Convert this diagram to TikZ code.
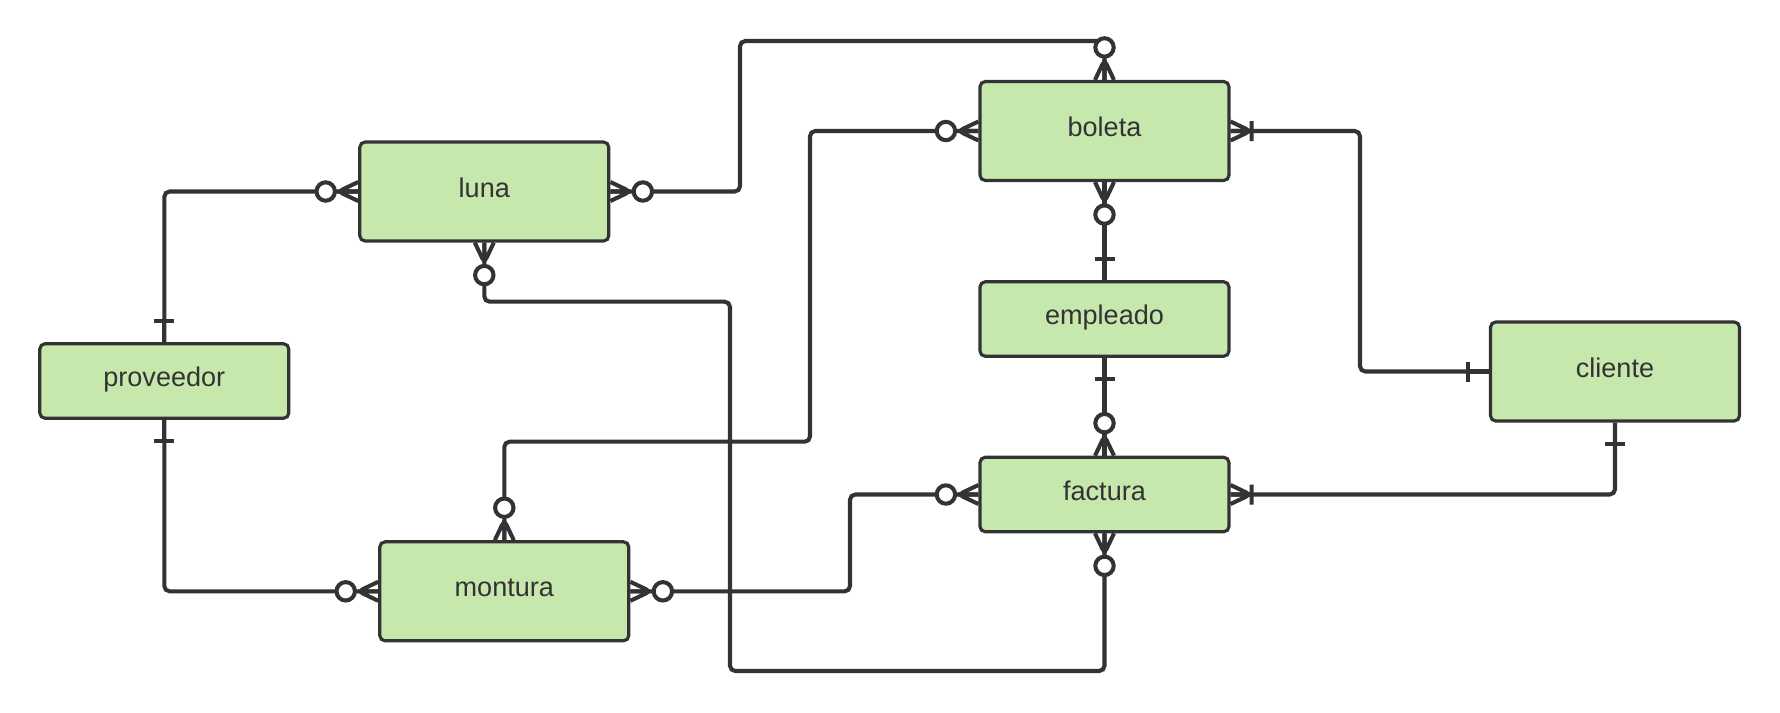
\documentclass[tikz,border=0pt]{standalone}
\usepackage{fontspec}
\setmainfont{Liberation Sans}
\usepackage{tikz}
\usepackage{xcolor}
\usetikzlibrary{positioning, calc}
\definecolor{cLine}{HTML}{333333}
\definecolor{cBox}{HTML}{C7E8AC}
\tikzset{
	entity/.style={rectangle, rounded corners=1.5pt, draw=cLine, line width=0.9pt, fill=cBox, text=cLine, align=center, minimum width=2.49cm, text height=5.5pt, text depth=2.3pt, font=\fontsize{7.7}{9}\selectfont},
	tall/.style={entity, minimum height=0.99cm},
	flat/.style={entity, minimum height=0.745cm},
	rel/.style={draw=cLine, line width=1.15pt, rounded corners=1.5pt},
	% ER end markers, local +x points away from the box
	zmany/.pic={\draw[rel] (0,0.095) -- (0.2,0) -- (0,-0.095) (0,0) -- (0.2,0);
		\draw[rel, fill=white] (0.325,0) circle (0.092);},
	onebar/.pic={\draw[rel] (0,0) -- (0.21,0) (0.21,-0.1) -- (0.21,0.1);},
	onemany/.pic={\draw[rel] (0,0.095) -- (0.2,0) -- (0,-0.095) (0,0) -- (0.21,0) (0.21,-0.1) -- (0.21,0.1);},
}
\begin{document}
\begin{tikzpicture}
	\useasboundingbox (0,0) rectangle (17.8,-7.12);
	% entities
	\node[tall] (luna) at (4.843,-1.915) {luna};
	\node[tall] (boleta) at (11.045,-1.31) {boleta};
	\node[flat] (empleado) at (11.045,-3.19) {empleado};
	\node[flat] (factura) at (11.045,-4.945) {factura};
	\node[tall] (cliente) at (16.15,-3.715) {cliente};
	\node[flat] (proveedor) at (1.643,-3.81) {proveedor};
	\node[tall] (montura) at (5.043,-5.913) {montura};
	% relations
	\draw[rel] (proveedor.north) |- (luna.west);
	\draw[rel] (proveedor.south) |- (montura.west);
	\draw[rel] (luna.east) -| (7.40,-0.41) -| (boleta.north);
	\draw[rel] (luna.south) |- (7.30,-3.017) -- (7.30,-6.71) -| (factura.south);
	\draw[rel] (montura.north) |- (8.10,-4.417) |- (boleta.west);
	\draw[rel] (montura.east) -| (8.50,-4.945) -- (factura.west);
	\draw[rel] (boleta.south) -- (empleado.north);
	\draw[rel] (empleado.south) -- (factura.north);
	\draw[rel] (boleta.east) -| (13.60,-3.715) -- (cliente.west);
	\draw[rel] (factura.east) -| (cliente.south);
	% end markers
	\pic[rotate=90] at (proveedor.north) {onebar};
	\pic[rotate=270] at (proveedor.south) {onebar};
	\pic[rotate=180] at (luna.west) {zmany};
	\pic at (luna.east) {zmany};
	\pic[rotate=270] at (luna.south) {zmany};
	\pic[rotate=90] at (boleta.north) {zmany};
	\pic[rotate=180] at (boleta.west) {zmany};
	\pic[rotate=270] at (boleta.south) {zmany};
	\pic at (boleta.east) {onemany};
	\pic[rotate=90] at (empleado.north) {onebar};
	\pic[rotate=270] at (empleado.south) {onebar};
	\pic[rotate=90] at (factura.north) {zmany};
	\pic[rotate=180] at (factura.west) {zmany};
	\pic[rotate=270] at (factura.south) {zmany};
	\pic at (factura.east) {onemany};
	\pic[rotate=180] at (cliente.west) {onebar};
	\pic[rotate=270] at (cliente.south) {onebar};
	\pic[rotate=180] at (montura.west) {zmany};
	\pic[rotate=90] at (montura.north) {zmany};
	\pic at (montura.east) {zmany};
\end{tikzpicture}
\end{document}
